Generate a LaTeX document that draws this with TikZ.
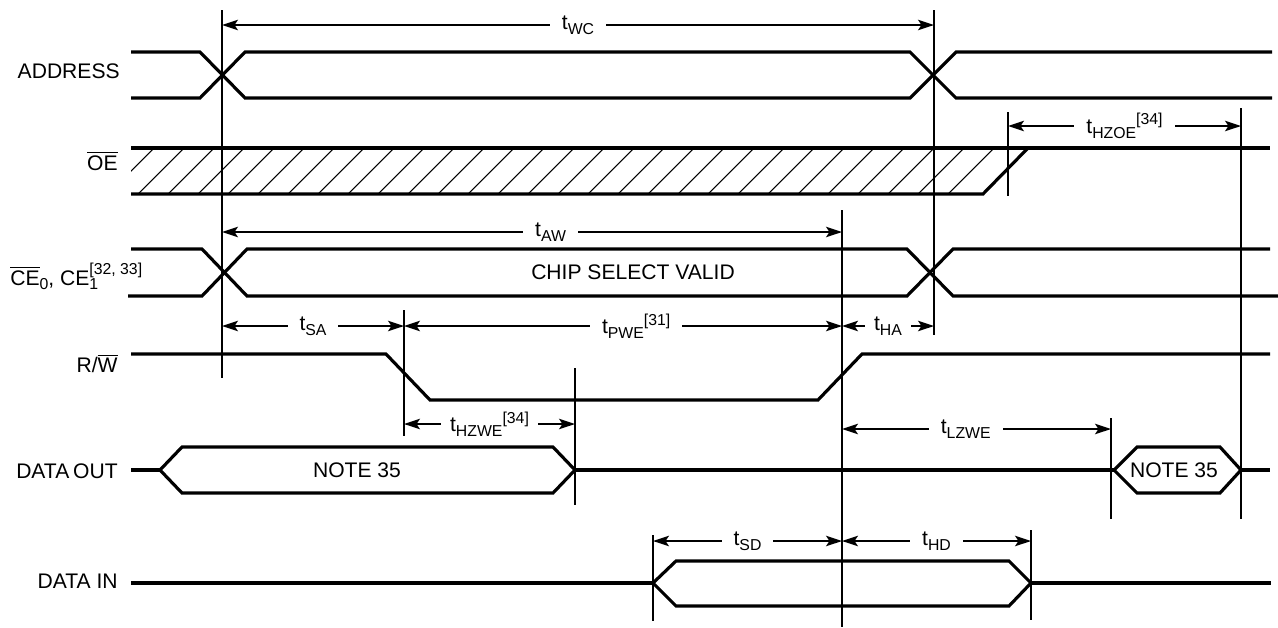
\documentclass[tikz,border=0pt]{standalone}
\usepackage{fontspec}
\setmainfont{Liberation Sans}
\usepackage{tikz}
\usetikzlibrary{
    arrows.meta,
    calc,
}
\tikzstyle{sig}=[line width=1.8pt,line join=miter]
\tikzstyle{guide}=[line width=0.9pt]
\tikzstyle{hatch}=[line width=0.6pt]
\tikzstyle{dim}=[line width=0.9pt,{Stealth[length=3.2mm,width=2.1mm,inset=0.7mm]}-{Stealth[length=3.2mm,width=2.1mm,inset=0.7mm]}]
\tikzstyle{tlab}=[fill=white,inner xsep=2.4mm,inner ysep=0.5mm]
\tikzstyle{lab}=[anchor=base east,inner sep=0pt]
\newcommand{\ovl}[1]{$\overline{\hbox{#1}}$}
\newcommand{\lsub}[1]{\raisebox{-2.6pt}{\fontsize{9}{10}\selectfont #1}}
\newcommand{\lsup}[1]{\raisebox{5pt}{\fontsize{9}{10}\selectfont #1}}
\newcommand{\tnam}[1]{t\lsub{#1}}

\begin{document}
\begin{tikzpicture}[x=0.02cm,y=-0.02cm,font=\fontsize{12}{14}\selectfont]
    \useasboundingbox (0,0) rectangle (1278,627);
    % time marks
    \coordinate (xas) at (222,0);
    \coordinate (xae) at (934,0);
    \coordinate (xoe) at (1008,0);
    \coordinate (xend) at (1241,0);
    \coordinate (xwr) at (842,0);
    \coordinate (xwf) at (404,0);
    \coordinate (xhz) at (575,0);
    \coordinate (xlz) at (1111,0);
    \coordinate (xsd) at (653,0);
    \coordinate (xhd) at (1031,0);

    % signal names
    \node[lab] (l-addr) at (120,78) {ADDRESS};
    \node[lab] (l-oe) at (118,170) {\ovl{OE}};
    \node[anchor=base west,inner sep=0pt] (l-ce) at (10,285) {\ovl{CE}\lsub{0}, CE\rlap{\lsub{1}}\raisebox{6pt}{\fontsize{9}{10}\selectfont [32, 33]}};
    \node[lab] (l-rw) at (118,372) {R/\ovl{W}};
    \node[lab] (l-dout) at (118,478) {DATA\kern0.18em OUT};
    \node[lab] (l-din) at (118,588) {DATA IN};

    % ADDRESS
    \draw[sig] (131,52) -- (200,52) -- (245,98) -- (910,98) -- (956,52) -- (1272,52);
    \draw[sig] (131,98) -- (200,98) -- (245,52) -- (910,52) -- (956,98) -- (1272,98);

    % OE
    \begin{scope}
        \clip (131,148) -- (1028,148) -- (983,194) -- (131,194) -- cycle;
        \foreach \hx in {108,138,...,948}
            \draw[hatch] (\hx,194) -- ++(46,-46);
    \end{scope}
    \draw[sig] (131,148) -- (1270,148);
    \draw[sig] (131,194) -- (983,194) -- (1028,148);

    % CE
    \draw[sig] (131,249) -- (202,249) -- (247,296) -- (907,296) -- (953,249) -- (1270,249);
    \draw[sig] (128,296) -- (202,296) -- (247,249) -- (907,249) -- (953,296) -- (1278,296);
    \node (csv) at (633,272) {CHIP SELECT VALID};

    % R/W
    \draw[sig] (131,354) -- (386,354) -- (430,400) -- (818,400) -- (862,354) -- (1270,354);

    % DATA OUT
    \draw[sig] (131,470) -- (160,470);
    \draw[sig] (160,470) -- (182,447) -- (553,447) -- (575,470) -- (553,493) -- (182,493) -- cycle;
    \draw[sig] (575,470) -- (1114,470);
    \draw[sig] (1114,470) -- (1137,447) -- (1220,447) -- (1241,470) -- (1220,493) -- (1137,493) -- cycle;
    \draw[sig] (1241,470) -- (1270,470);
    \node (n35a) at (357,470) {NOTE 35};
    \node[inner sep=0pt] (n35b) at (1174,470) {NOTE 35};

    % DATA IN
    \draw[sig] (131,583) -- (653,583);
    \draw[sig] (653,583) -- (676,561) -- (1009,561) -- (1031,583) -- (1009,606) -- (676,606) -- cycle;
    \draw[sig] (1031,583) -- (1271,583);

    % guide lines
    \draw[guide] (xas |- 0,10) -- (xas |- 0,378);
    \draw[guide] (xae |- 0,10) -- (xae |- 0,335);
    \draw[guide] (xoe |- 0,112) -- (xoe |- 0,196);
    \draw[guide] (xend |- 0,108) -- (xend |- 0,519);
    \draw[guide] (xwr |- 0,210) -- (xwr |- 0,627);
    \draw[guide] (xwf |- 0,310) -- (xwf |- 0,436);
    \draw[guide] (xhz |- 0,368) -- (xhz |- 0,505);
    \draw[guide] (xlz |- 0,418) -- (xlz |- 0,519);
    \draw[guide] (xsd |- 0,535) -- (xsd |- 0,621);
    \draw[guide] (xhd |- 0,530) -- (xhd |- 0,620);

    % timing arrows
    \draw[dim] (xas |- 0,25) -- node[tlab] (t-wc) {\tnam{WC}} (xae |- 0,25);
    \draw[dim] (xoe |- 0,126) -- node[tlab] (t-hzoe) {\tnam{HZOE}\lsup{[34]}} (xend |- 0,126);
    \draw[dim] (xas |- 0,232) -- node[tlab,pos=0.53] (t-aw) {\tnam{AW}} (xwr |- 0,232);
    \draw[dim] (xas |- 0,326) -- node[tlab] (t-sa) {\tnam{SA}} (xwf |- 0,326);
    \draw[dim] (xwf |- 0,326) -- node[tlab,pos=0.53] (t-pwe) {\tnam{PWE}\lsup{[31]}} (xwr |- 0,326);
    \draw[dim] (xwr |- 0,326) -- node[tlab,inner xsep=1.8mm] (t-ha) {\tnam{HA}} (xae |- 0,326);
    \draw[dim] (xwf |- 0,424) -- node[tlab,inner xsep=1.8mm] (t-hzwe) {\tnam{HZWE}\lsup{[34]}} (xhz |- 0,424);
    \draw[dim] (xwr |- 0,429) -- node[tlab,pos=0.46] (t-lzwe) {\tnam{LZWE}} (xlz |- 0,429);
    \draw[dim] (xsd |- 0,541) -- node[tlab] (t-sd) {\tnam{SD}} (xwr |- 0,541);
    \draw[dim] (xwr |- 0,541) -- node[tlab] (t-hd) {\tnam{HD}} (xhd |- 0,541);
\end{tikzpicture}
\end{document}
